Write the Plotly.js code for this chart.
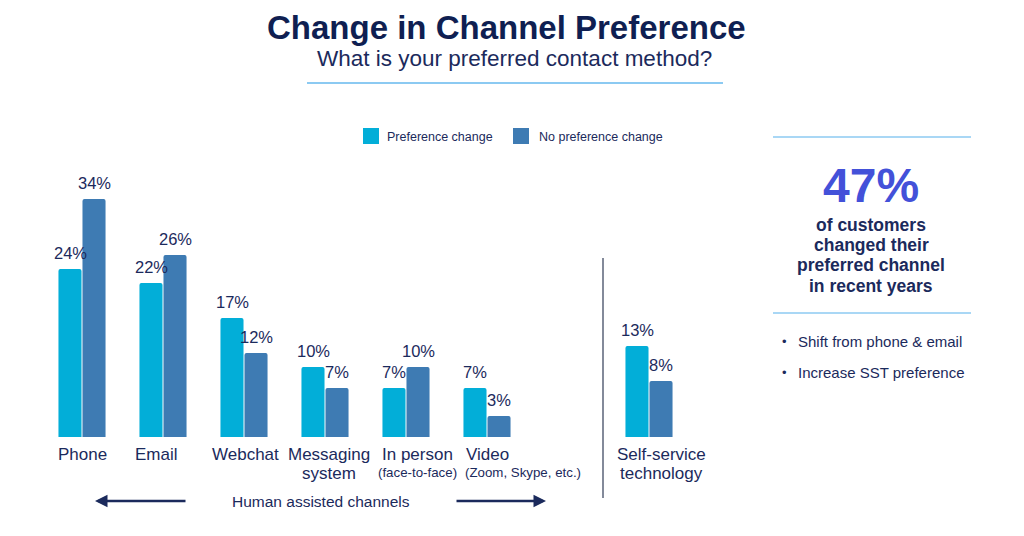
<!DOCTYPE html>
<html><head><meta charset="utf-8">
<script src="https://cdn.plot.ly/plotly-3.0.1.min.js"></script>
<style>html,body{margin:0;padding:0;background:#fff}#chart{width:1024px;height:536px}</style>
</head><body><div id="chart"></div>
<script>
// ---- data ----
const categories = ['Phone','Email','Webchat','Messaging system','In person','Video','Self-service technology'];
const catLines = [['Phone'],['Email'],['Webchat'],['Messaging','system'],['In person'],['Video'],['Self-service','technology']];
const catNotes = ['','','','','(face-to-face)','(Zoom, Skype, etc.)',''];
const prefChange = [24,22,17,10,7,7,13];
const noPrefChange = [34,26,12,7,10,3,8];
const seriesNames = ['Preference change','No preference change'];
const titleText = 'Change in Channel Preference';
const subtitleText = 'What is your preferred contact method?';
const headlineValue = '47%';
const headlineLines = ['of customers','changed their','preferred channel','in recent years'];
const bullets = ['Shift from phone & email','Increase SST preference'];
const groupCaption = 'Human assisted channels';

// ---- style ----
const W = 1024, H = 536;
const FONT = 'Liberation Sans, Arial, sans-serif';
const NAVY = '#1b2a5c', TITLE = '#0f1f52', CYAN = '#02aed8', STEEL = '#3e7bb3', RULE = '#8ccaf2', BIG = '#4351d9';
const catShift = [0,-7,1,4,11,-23,12];
const catAnchor = ['center','center','center','center','center','left','center'];
const px = x => x / W, py = y => 1 - y / H;
const spacer = ' ';
const axisCats = categories.slice(0,6).concat([spacer, categories[6]]);

const traces = [
  {type:'bar', name:seriesNames[0], x:categories, y:prefChange, marker:{color:CYAN, cornerradius:2}},
  {type:'bar', name:seriesNames[1], x:categories, y:noPrefChange, marker:{color:STEEL, cornerradius:2}}
];

const ann = [];
const txt = (text, x, y, size, opts={}) => ann.push(Object.assign({
  text, x:px(x), y:py(y), xref:'paper', yref:'paper', showarrow:false,
  xanchor:'center', yanchor:'middle', font:{family:FONT, size, color:NAVY}
}, opts));

// value labels
[prefChange, noPrefChange].forEach((vals, s) => vals.forEach((v, i) => ann.push({
  text: v + '%', x: categories[i], y: v, xref:'x', yref:'y', showarrow:false,
  xanchor:'center', yanchor:'middle', xshift: s === 0 ? -12 : 12, yshift: 16,
  font:{family:FONT, size:16.5, color:NAVY}
})));
// category labels
categories.forEach((c, i) => {
  catLines[i].forEach((line, k) => ann.push({
    text: line, x: c, y: 0, xref:'x', yref:'y', showarrow:false,
    xanchor: catAnchor[i], yanchor:'middle', xshift: catShift[i], yshift: -(17 + 19*k),
    font:{family:FONT, size:17, color:NAVY}
  }));
  if (catNotes[i]) ann.push({
    text: catNotes[i], x: c, y: 0, xref:'x', yref:'y', showarrow:false,
    xanchor: catAnchor[i], yanchor:'middle', xshift: catShift[i] + (catAnchor[i]==='left' ? -1 : 0), yshift: -35,
    font:{family:FONT, size:13.3, color:NAVY}
  });
});

// titles
txt('<b>' + titleText + '</b>', 506, 27, 33, {font:{family:FONT, size:33, color:TITLE}});
txt(subtitleText, 514.5, 59, 22.5);
// legend
txt(seriesNames[0], 385, 137, 12.5, {xanchor:'left'});
txt(seriesNames[1], 537, 137, 12.5, {xanchor:'left'});
// right panel
txt('<b>' + headlineValue + '</b>', 870.5, 185, 48, {font:{family:FONT, size:48, color:BIG}});
headlineLines.forEach((l, k) => txt('<b>' + l + '</b>', 871, 225 + 20.2*k, 17.5));
bullets.forEach((b, k) => {
  txt('•', 784.5, 341 + 31.5*k, 13);
  txt(b, 796, 341 + 31.5*k, 15, {xanchor:'left'});
});
// bottom caption + arrows
txt(groupCaption, 321, 501, 15.5);
ann.push({text:'', x:px(95), y:py(501), xref:'paper', yref:'paper', showarrow:true, axref:'pixel', ayref:'pixel',
  ax:92, ay:0, arrowhead:2, arrowsize:1, arrowwidth:2.5, arrowcolor:NAVY, standoff:0});
ann.push({text:'', x:px(546), y:py(501), xref:'paper', yref:'paper', showarrow:true, axref:'pixel', ayref:'pixel',
  ax:-91, ay:0, arrowhead:2, arrowsize:1, arrowwidth:2.5, arrowcolor:NAVY, standoff:0});

const shapes = [
  {type:'line', xref:'paper', yref:'paper', x0:px(307), x1:px(723), y0:py(83), y1:py(83), line:{color:RULE, width:2}},
  {type:'rect', xref:'paper', yref:'paper', x0:px(363), x1:px(379), y0:py(128), y1:py(144), fillcolor:CYAN, line:{width:0}},
  {type:'rect', xref:'paper', yref:'paper', x0:px(513), x1:px(529), y0:py(128), y1:py(144), fillcolor:STEEL, line:{width:0}},
  {type:'line', xref:'paper', yref:'paper', x0:px(773), x1:px(971), y0:py(137), y1:py(137), line:{color:RULE, width:1.5}},
  {type:'line', xref:'paper', yref:'paper', x0:px(773), x1:px(971), y0:py(313), y1:py(313), line:{color:RULE, width:1.5}},
  {type:'line', xref:'paper', yref:'paper', x0:px(603), x1:px(603), y0:py(258), y1:py(498), line:{color:'#5a6378', width:1.5}}
];

const layout = {
  width:W, height:H, margin:{l:0,r:0,t:0,b:0}, paper_bgcolor:'#fff', plot_bgcolor:'#fff',
  showlegend:false, barmode:'group', bargap:0.407, bargroupgap:0.04,
  xaxis:{type:'category', categoryorder:'array', categoryarray:axisCats, range:[-82/81, -82/81 + W/81], visible:false, fixedrange:true},
  yaxis:{range:[-99/7, -99/7 + H/7], visible:false, fixedrange:true},
  annotations:ann, shapes:shapes, hovermode:false
};
Plotly.newPlot('chart', traces, layout, {staticPlot:true, displayModeBar:false});
</script></body></html>
